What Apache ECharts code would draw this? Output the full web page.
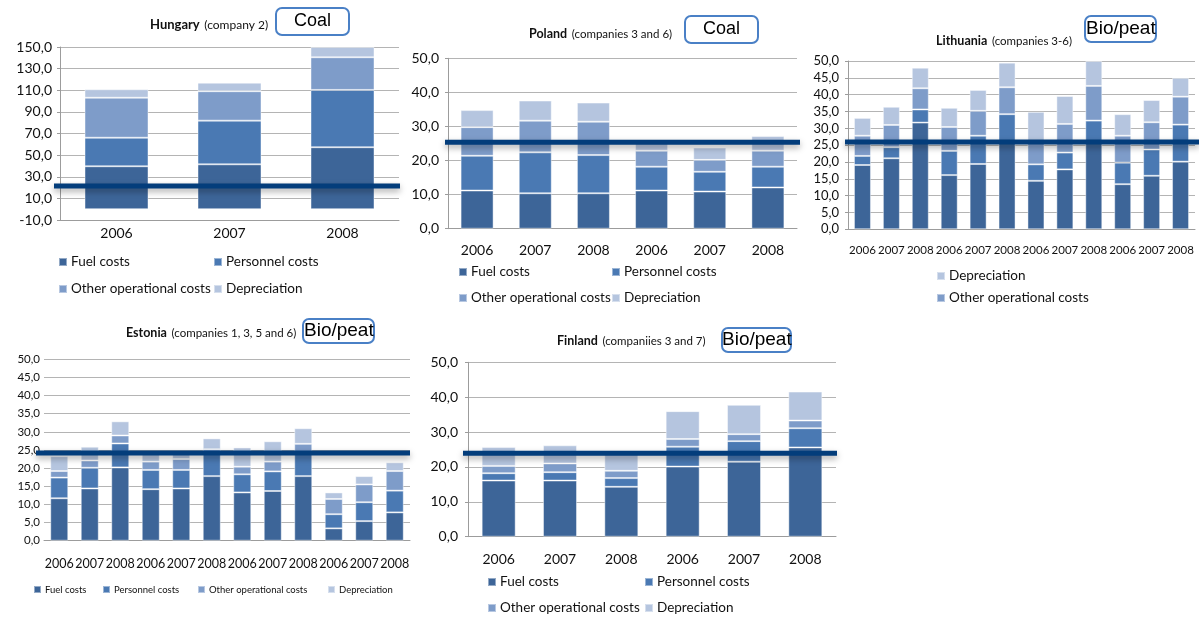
<!DOCTYPE html>
<html>
<head>
<meta charset="utf-8">
<title>Heat production cost structure</title>
<script src="https://cdn.jsdelivr.net/npm/echarts@6/dist/echarts.min.js"></script>
<style>
  html, body { margin: 0; padding: 0; background: #ffffff; }
  #chart { width: 1199px; height: 618px; }
</style>
</head>
<body>
<div id="chart"></div>
<script>
// Cost components (stacked in this order, bottom to top)
const costNames = ['Fuel costs', 'Personnel costs', 'Other operational costs', 'Depreciation'];
const years = ['2006', '2007', '2008'];

// Hungary (company 2)
const huCategories = years.slice();
const huFuel  = [39.7, 41.5, 57.3];
const huPers  = [26.4, 40.4, 53.0];
const huOther = [37.0, 27.2, 30.2];
const huDep   = [7.8, 7.9, 9.5];

// Poland (companies 3 and 6)
const plCategories = years.concat(years);
const plFuel  = [11.2, 10.4, 10.4, 11.2, 10.9, 12.1];
const plPers  = [10.2, 12.0, 11.2, 7.0, 5.8, 6.1];
const plOther = [8.4, 9.3, 9.8, 4.7, 3.5, 4.7];
const plDep   = [5.0, 5.9, 5.6, 2.4, 3.6, 4.3];

// Lithuania (companies 3-6)
const ltCategories = years.concat(years, years, years);
const ltFuel  = [19.1, 21.1, 31.7, 16.1, 19.4, 26.0, 14.4, 17.8, 26.0, 13.4, 15.9, 20.1];
const ltPers  = [2.7, 3.3, 3.9, 7.2, 8.4, 8.2, 4.9, 5.0, 6.3, 6.4, 7.8, 11.0];
const ltOther = [6.0, 6.6, 6.3, 7.1, 7.4, 8.0, 6.7, 8.5, 10.3, 8.0, 8.1, 8.3];
const ltDep   = [5.3, 5.4, 6.1, 5.7, 6.2, 7.3, 8.9, 8.3, 7.4, 6.4, 6.6, 5.6];

// Estonia (companies 1, 3, 5 and 6)
const eeCategories = years.concat(years, years, years);
const eeFuel  = [11.7, 14.4, 20.2, 14.2, 14.4, 17.8, 13.3, 13.7, 17.8, 3.4, 5.4, 7.8];
const eePers  = [5.7, 5.7, 6.6, 5.3, 5.1, 6.2, 5.0, 5.4, 6.2, 3.9, 5.2, 6.0];
const eeOther = [1.8, 2.0, 2.2, 2.3, 3.0, 1.2, 2.1, 2.7, 2.7, 4.2, 4.9, 5.4];
const eeDep   = [4.1, 3.8, 3.9, 2.2, 1.5, 3.0, 5.3, 5.6, 4.3, 1.8, 2.3, 2.4];

// Finland (companies 3 and 7)
const fiCategories = years.concat(years);
const fiFuel  = [16.1, 16.1, 14.3, 20.1, 21.5, 25.6];
const fiPers  = [2.1, 2.4, 2.5, 5.7, 5.9, 5.5];
const fiOther = [2.1, 2.5, 2.1, 2.2, 2.0, 2.2];
const fiDep   = [5.4, 5.2, 4.9, 8.0, 8.4, 8.3];

// Reference level drawn across each panel
const refLevels = [21.5, 25.4, 25.9, 24.2, 23.9];

// Panel headings and fuel-type tags
const panelCountries = ['Hungary', 'Poland', 'Lithuania', 'Estonia', 'Finland'];
const panelNotes = ['(company 2)', '(companies 3 and 6)', '(companies 3-6)', '(companies 1, 3, 5 and 6)', '(companiies 3 and 7)'];
const panelTags = ['Coal', 'Coal', 'Bio/peat', 'Bio/peat', 'Bio/peat'];

// ---------------------------------------------------------------------------
const FONT = 'Lato, "Open Sans", sans-serif';
const colors = ['#3d6598', '#4a79b3', '#7e9cc9', '#b5c5df'];

const panels = [
  { cats: huCategories, data: [huFuel, huPers, huOther, huDep],
    grid: { left: 60, top: 47, width: 339, height: 173 },
    y: { min: -10, max: 150, interval: 20 }, barWidth: 64, yFont: 14, xFont: 14, yMargin: 8, xMargin: 6,
    yLine: true, title: { left: 150, top: 16, size: 13 }, tag: { left: 276, top: 8, size: 18, pad: [3, 18] },
    line: [54, 400] },
  { cats: plCategories, data: [plFuel, plPers, plOther, plDep],
    grid: { left: 448, top: 58.3, width: 349, height: 170.4 },
    y: { min: 0, max: 50, interval: 10 }, barWidth: 33, yFont: 14, xFont: 14, yMargin: 9, xMargin: 15,
    yLine: true, title: { left: 529, top: 25, size: 12.5 }, tag: { left: 685, top: 16, size: 18, pad: [3, 18] },
    line: [445, 800] },
  { cats: ltCategories, data: [ltFuel, ltPers, ltOther, ltDep],
    grid: { left: 848, top: 61, width: 347, height: 168.3 },
    y: { min: 0, max: 50, interval: 5 }, barWidth: 17, yFont: 13, xFont: 11.5, yMargin: 9, xMargin: 15,
    yLine: true, title: { left: 936, top: 32, size: 12.5 }, tag: { left: 1085, top: 16, size: 19, pad: [2, 1] },
    line: [845, 1199] },
  { cats: eeCategories, data: [eeFuel, eePers, eeOther, eeDep],
    grid: { left: 44, top: 359.3, width: 366, height: 181.4 },
    y: { min: 0, max: 50, interval: 5 }, barWidth: 18, yFont: 11.5, xFont: 12.5, yMargin: 4, xMargin: 17,
    yLine: false, title: { left: 126, top: 324, size: 12.5 }, tag: { left: 303, top: 319, size: 19, pad: [1, 1] },
    line: [36, 410] },
  { cats: fiCategories, data: [fiFuel, fiPers, fiOther, fiDep],
    grid: { left: 468, top: 362.3, width: 368, height: 174.4 },
    y: { min: 0, max: 50, interval: 10 }, barWidth: 34, yFont: 14, xFont: 14, yMargin: 10, xMargin: 16,
    yLine: true, title: { left: 557, top: 332, size: 12.5 }, tag: { left: 722, top: 328, size: 19, pad: [1, 0] },
    line: [463, 837] }
];

// Legend entries: [panel, series name, marker left, row centre, font size, marker size]
const legendItems = [
  [0, 'Fuel costs', 58, 263, 13.5, 8], [0, 'Personnel costs', 213, 263, 13.5, 8],
  [0, 'Other operational costs', 58, 290, 13.5, 8], [0, 'Depreciation', 213, 290, 13.5, 8],
  [1, 'Fuel costs', 458, 273, 13.5, 8], [1, 'Personnel costs', 611, 273, 13.5, 8],
  [1, 'Other operational costs', 458, 299, 13.5, 8], [1, 'Depreciation', 611, 299, 13.5, 8],
  [2, 'Depreciation', 936, 277, 13.5, 8], [2, 'Other operational costs', 936, 299, 13.5, 8],
  [3, 'Fuel costs', 33, 590, 9.5, 7], [3, 'Personnel costs', 102, 590, 9.5, 7],
  [3, 'Other operational costs', 197, 590, 9.5, 7], [3, 'Depreciation', 327, 590, 9.5, 7],
  [4, 'Fuel costs', 487, 583, 13.5, 8], [4, 'Personnel costs', 644, 583, 13.5, 8],
  [4, 'Other operational costs', 487, 609, 13.5, 8], [4, 'Depreciation', 644, 609, 13.5, 8]
];

const fmt = v => v.toFixed(1).replace('.', ',');

const option = {
  animation: false,
  backgroundColor: '#ffffff',
  textStyle: { fontFamily: FONT },
  title: [],
  legend: [],
  grid: [],
  xAxis: [],
  yAxis: [],
  series: []
};

panels.forEach((p, i) => {
  option.grid.push(Object.assign({ containLabel: false }, p.grid));

  option.xAxis.push({
    type: 'category', gridIndex: i, data: p.cats,
    axisLine: { show: true, onZero: false, lineStyle: { color: '#9c9c9c', width: 1 } },
    axisTick: { show: false },
    axisLabel: { color: '#111', fontSize: p.xFont, fontFamily: FONT, margin: p.xMargin, interval: 0 }
  });

  option.yAxis.push({
    type: 'value', gridIndex: i, min: p.y.min, max: p.y.max, interval: p.y.interval,
    axisLine: { show: p.yLine, lineStyle: { color: '#9c9c9c', width: 1 } },
    axisTick: { show: p.yLine, length: 3, lineStyle: { color: '#9c9c9c' } },
    splitLine: { show: true, lineStyle: { color: '#b4b4b4', width: 1 } },
    axisLabel: { color: '#111', fontSize: p.yFont, fontFamily: FONT, margin: p.yMargin, formatter: fmt }
  });

  costNames.forEach((name, k) => {
    option.series.push({
      name: name, type: 'bar', stack: 'panel' + i,
      xAxisIndex: i, yAxisIndex: i,
      barWidth: p.barWidth,
      data: p.data[k],
      itemStyle: { color: colors[k], borderColor: 'rgba(255,255,255,0.45)', borderWidth: 1 },
      emphasis: { disabled: true }
    });
  });

  option.title.push({
    text: '{b|' + panelCountries[i] + '} {n|' + panelNotes[i] + '}',
    left: p.title.left, top: p.title.top, padding: 0,
    textStyle: {
      fontWeight: 'normal',
      rich: {
        b: { fontFamily: FONT, fontWeight: 'bold', fontSize: p.title.size, color: '#111' },
        n: { fontFamily: FONT, fontWeight: 'normal', fontSize: p.title.size - 1, color: '#111' }
      }
    }
  });

  option.title.push({
    text: panelTags[i],
    left: p.tag.left, top: p.tag.top,
    padding: p.tag.pad,
    borderColor: '#4a80c6', borderWidth: 2, borderRadius: 6,
    backgroundColor: '#ffffff',
    textStyle: { fontFamily: 'Liberation Sans, Arial, sans-serif', fontWeight: 'normal',
                 fontSize: p.tag.size, lineHeight: p.tag.size + 3, color: '#000' }
  });
});

legendItems.forEach(([pi, name, left, cy, fs, ms]) => {
  const h = Math.max(ms, Math.round(fs * 1.2));
  option.legend.push({
    data: [name], left: left, top: cy - h / 2, padding: 0,
    icon: 'rect', itemWidth: ms, itemHeight: ms, itemGap: 0,
    selectedMode: false,
    textStyle: { fontFamily: FONT, fontSize: fs, color: '#111', padding: [0, 0, 0, -1] }
  });
});

const chart = echarts.init(document.getElementById('chart'), null, { renderer: 'canvas' });
chart.setOption(option);

// Reference level lines, placed through each panel's own value axis
const lineGraphics = panels.map((p, i) => {
  const y = chart.convertToPixel({ gridIndex: i }, [0, refLevels[i]])[1];
  return {
    type: 'line', z: 100,
    shape: { x1: p.line[0], y1: y, x2: p.line[1], y2: y },
    style: { stroke: '#033d7b', lineWidth: 5,
             shadowBlur: 6, shadowColor: 'rgba(0,0,0,0.35)', shadowOffsetY: 3 }
  };
});
chart.setOption({ graphic: lineGraphics });
</script>
</body>
</html>
